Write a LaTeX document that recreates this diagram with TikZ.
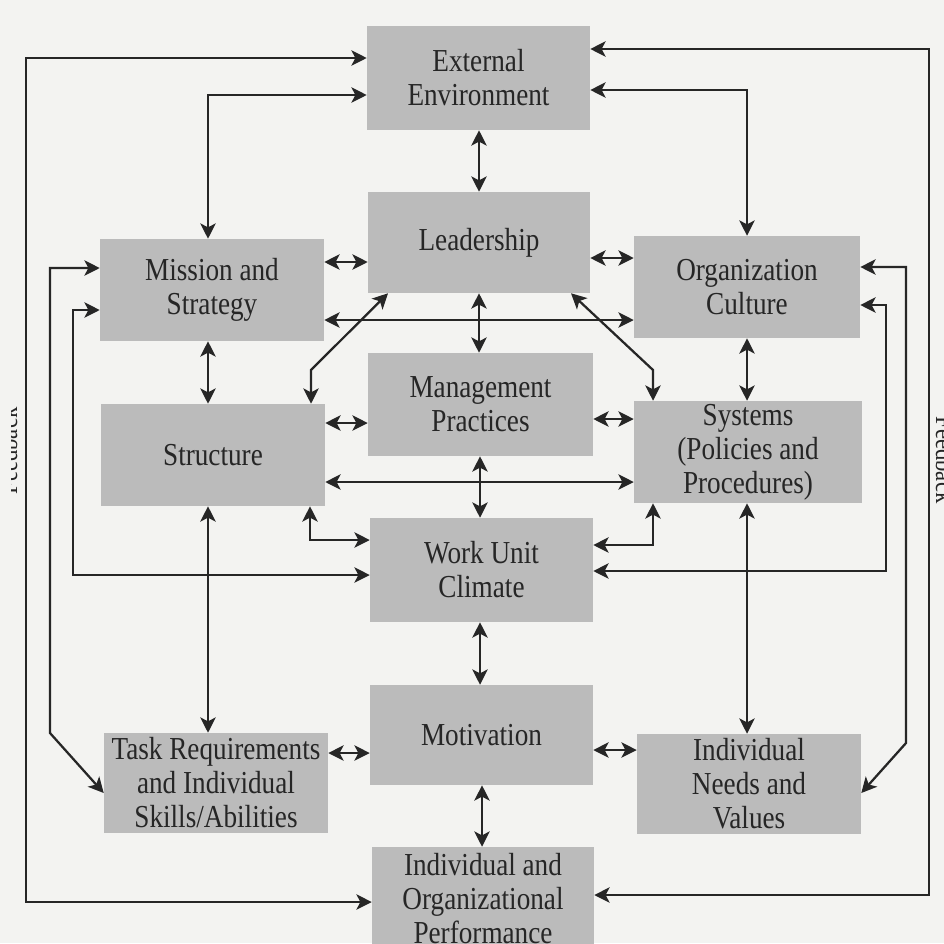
\documentclass[tikz,border=0pt]{standalone}
\usepackage{fontspec}
\setmainfont{Liberation Serif}[FakeStretch=0.85]
\usetikzlibrary{arrows.meta}
\definecolor{bg}{RGB}{243,243,241}
\definecolor{boxfill}{RGB}{187,187,187}
\definecolor{ink}{RGB}{38,38,38}
\newcommand\mybox[6]{\node[box, minimum width=#4*0.75pt, minimum height=#5*0.75pt] (#1) at (#2,#3) {#6};}
\begin{document}
\begin{tikzpicture}[x=0.75pt,y=-0.75pt,
  box/.style={fill=boxfill, draw=none, inner sep=0pt, align=center,
    font=\fontsize{24}{25.5}\selectfont, text=ink},
  arr/.style={draw=ink, line width=1.7pt,
    {Stealth[length=11.5pt,width=11.5pt,inset=3pt]}-{Stealth[length=11.5pt,width=11.5pt,inset=3pt]}},
  fb/.style={font=\fontsize{20}{20}\selectfont, text=ink, anchor=base, inner sep=0pt}]
\useasboundingbox (0,0) rectangle (944,943);
\clip (0,0) rectangle (944,943);
\fill[bg] (0,0) rectangle (944,943);

% boxes
\mybox{ext}{478.5}{78}{223}{104}{External\\Environment}
\mybox{lead}{479}{242.5}{222}{101}{Leadership}
\mybox{mis}{212}{290}{224}{102}{Mission and\\Strategy}
\mybox{cult}{747}{287}{226}{102}{Organization\\Culture}
\mybox{mgmt}{480.5}{404.5}{225}{103}{Management\\Practices}
\mybox{struc}{213}{455}{224}{102}{Structure}
\mybox{sys}{748}{452}{228}{102}{Systems\\(Policies and\\Procedures)}
\mybox{wuc}{481.5}{570}{223}{104}{Work Unit\\Climate}
\mybox{mot}{481.5}{735}{223}{100}{Motivation}
\mybox{task}{216}{783}{224}{100}{Task Requirements\\and Individual\\Skills/Abilities}
\mybox{need}{749}{784}{224}{100}{Individual\\Needs and\\Values}
\mybox{perf}{483}{898.5}{222}{103}{Individual and\\Organizational\\Performance}

% feedback labels (cut by the page edge, as in the scan)
\begin{scope}
  \clip (11,300) rectangle (40,600);
  \node[fb, rotate=90] (fbl) at (17,451) {Feedback};
\end{scope}
\node[fb, rotate=-90] (fbr) at (936,460) {Feedback};

% outer feedback loops
\draw[arr] (ext.west |- 0,58) -- (26,58) -- (26,902) -- (perf.west |- 0,902);
\draw[arr] (ext.east |- 0,49) -- (929,49) -- (929,895) -- (perf.east |- 0,895);
\draw[arr] (mis.west |- 0,268) -- (50,268) -- (50,733) -- (task.west |- 0,793);
\draw[arr] (mis.west |- 0,310) -- (73,310) -- (73,575) -- (wuc.west |- 0,575);
\draw[arr] (cult.east |- 0,267) -- (906,267) -- (906,743) -- (need.east |- 0,793);
\draw[arr] (cult.east |- 0,305) -- (886,305) -- (886,571) -- (wuc.east |- 0,571);

% external environment links
\draw[arr] (ext.west |- 0,95) -- (208,95) -- (208,0 |- mis.north);
\draw[arr] (ext.east |- 0,90) -- (747,90) -- (747,0 |- cult.north);
\draw[arr] (479,0 |- ext.south) -- (479,0 |- lead.north);

% leadership row
\draw[arr] (mis.east |- 0,262) -- (lead.west |- 0,262);
\draw[arr] (lead.east |- 0,258) -- (cult.west |- 0,258);
\draw[arr] (479,0 |- lead.south) -- (479,0 |- mgmt.north);
\draw[arr] (mis.east |- 0,320) -- (cult.west |- 0,320);
\draw[arr] (388,0 |- lead.south) -- (311,370) -- (311,0 |- struc.north);
\draw[arr] (571,0 |- lead.south) -- (653,370) -- (653,0 |- sys.north);

% middle
\draw[arr] (208,0 |- mis.south) -- (208,0 |- struc.north);
\draw[arr] (747,0 |- cult.south) -- (747,0 |- sys.north);
\draw[arr] (struc.east |- 0,423) -- (mgmt.west |- 0,423);
\draw[arr] (mgmt.east |- 0,419) -- (sys.west |- 0,419);
\draw[arr] (struc.east |- 0,482) -- (sys.west |- 0,482);
\draw[arr] (480,0 |- mgmt.south) -- (480,0 |- wuc.north);
\draw[arr] (310,0 |- struc.south) -- (310,540) -- (wuc.west |- 0,540);
\draw[arr] (653,0 |- sys.south) -- (653,545) -- (wuc.east |- 0,545);

% lower
\draw[arr] (208,0 |- struc.south) -- (208,0 |- task.north);
\draw[arr] (747,0 |- sys.south) -- (747,0 |- need.north);
\draw[arr] (480,0 |- wuc.south) -- (480,0 |- mot.north);
\draw[arr] (task.east |- 0,753) -- (mot.west |- 0,753);
\draw[arr] (mot.east |- 0,750) -- (need.west |- 0,750);
\draw[arr] (482,0 |- mot.south) -- (482,0 |- perf.north);
\end{tikzpicture}
\end{document}
